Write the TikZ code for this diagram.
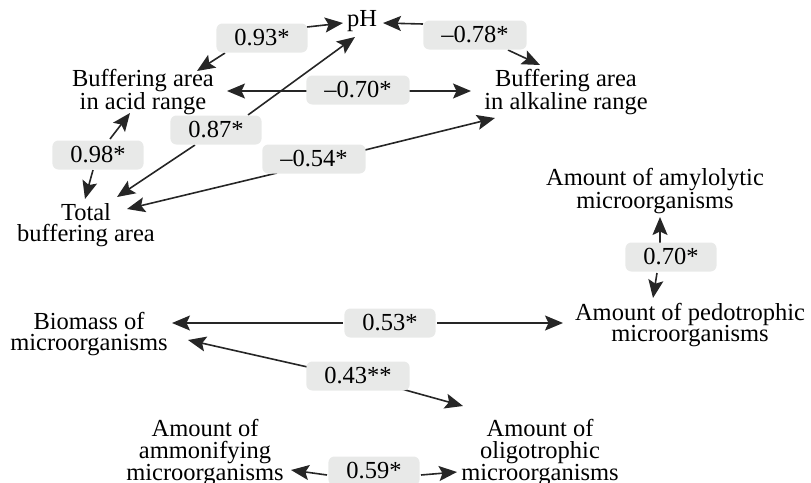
\documentclass[tikz,border=0pt]{standalone}
\usepackage{fontspec}
\setmainfont{Liberation Serif}
\usetikzlibrary{arrows.meta,calc,backgrounds}
\definecolor{lblgray}{HTML}{E8E9E8}
\definecolor{arrgray}{HTML}{262626}
\begin{document}
\begin{tikzpicture}[x=1pt,y=-1pt,
  txt/.style={align=center,font=\fontsize{24.5}{21.5}\selectfont,inner sep=0pt},
  lbl/.style={fill=lblgray,rounded corners=6pt,font=\fontsize{24.5}{21}\selectfont,inner xsep=18pt,inner ysep=0pt,minimum height=29pt},
  conn/.style={draw=arrgray,line width=1.6pt,-{Stealth[length=18pt,width=15pt,inset=3.5pt]}}]
\useasboundingbox (0,0) rectangle (811,482);
% variables
\node[txt] (ph) at (362,21) {pH};
\node[txt] (acid) at (143,92) {Buffering area\\in acid range};
\node[txt] (alk) at (566,92) {Buffering area\\in alkaline range};
\node[txt] (total) at (86,225) {Total\\buffering area};
\node[txt] (amyl) at (655,191) {Amount of amylolytic\\microorganisms};
\node[txt] (pedo) at (690,325) {Amount of pedotrophic\\microorganisms};
\node[txt] (bio) at (89,334) {Biomass of\\microorganisms};
\node[txt] (ammo) at (205,453) {Amount of\\ammonifying\\microorganisms};
\node[txt] (oligo) at (540,453) {Amount of\\oligotrophic\\microorganisms};
% correlation labels
\node[lbl] (l93) at (262,38) {0.93*};
\node[lbl] (l78) at (475,35) {–0.78*};
\node[lbl] (l70) at (358,90) {–0.70*};
\node[lbl] (l87) at (216,130) {0.87*};
\node[lbl] (l98) at (98,155) {0.98*};
\node[lbl] (l54) at (314,159) {–0.54*};
\node[lbl] (l70b) at (671,257) {0.70*};
\node[lbl] (l53) at (390,323) {0.53*};
\node[lbl] (l43) at (358,376) {0.43**};
\node[lbl] (l59) at (374,471) {0.59*};
\begin{pgfonlayer}{background}
\draw[conn] ($(l93)+(-37,15)$) -- ($(acid)+(54,-21)$);
\draw[conn] ($(l93)+(45,-11)$) -- ($(ph)+(-19,2)$);
\draw[conn] ($(l78)+(-52,-11)$) -- ($(ph)+(21,2)$);
\draw[conn] ($(l78)+(33,15)$) -- ($(alk)+(-26,-27)$);
\draw[conn] ($(l70)+(-46,1)$) -- ($(acid)+(84,-1)$);
\draw[conn] ($(l70)+(46,1)$) -- ($(alk)+(-95,-1)$);
\draw[conn] ($(l87)+(32,-15)$) -- ($(ph)+(-7,16)$);
\draw[conn] ($(l87)+(-21,15)$) -- ($(total)+(31,-28)$);
\draw[conn] ($(l98)+(12,-16)$) -- ($(acid)+(-13,21)$);
\draw[conn] ($(l98)+(-5,15)$) -- ($(total)+(-1,-26)$);
\draw[conn] ($(l54)+(-37,14)$) -- ($(total)+(41,-16)$);
\draw[conn] ($(l54)+(51,-9)$) -- ($(alk)+(-71,26)$);
\draw[conn] ($(l70b)+(-11,-14)$) -- ($(amyl)+(5,26)$);
\draw[conn] ($(l70b)+(-14,16)$) -- ($(pedo)+(-37,-27)$);
\draw[conn] ($(l53)+(-47,0)$) -- ($(bio)+(83,-11)$);
\draw[conn] ($(l53)+(47,0)$) -- ($(pedo)+(-127,-2)$);
\draw[conn] ($(l43)+(-46,-8)$) -- ($(bio)+(99,6)$);
\draw[conn] ($(l43)+(40,12)$) -- ($(oligo)+(-77,-47)$);
\draw[conn] ($(l59)+(-47,4)$) -- ($(ammo)+(86,17)$);
\draw[conn] ($(l59)+(47,4)$) -- ($(oligo)+(-83,19)$);
\end{pgfonlayer}
\end{tikzpicture}
\end{document}
